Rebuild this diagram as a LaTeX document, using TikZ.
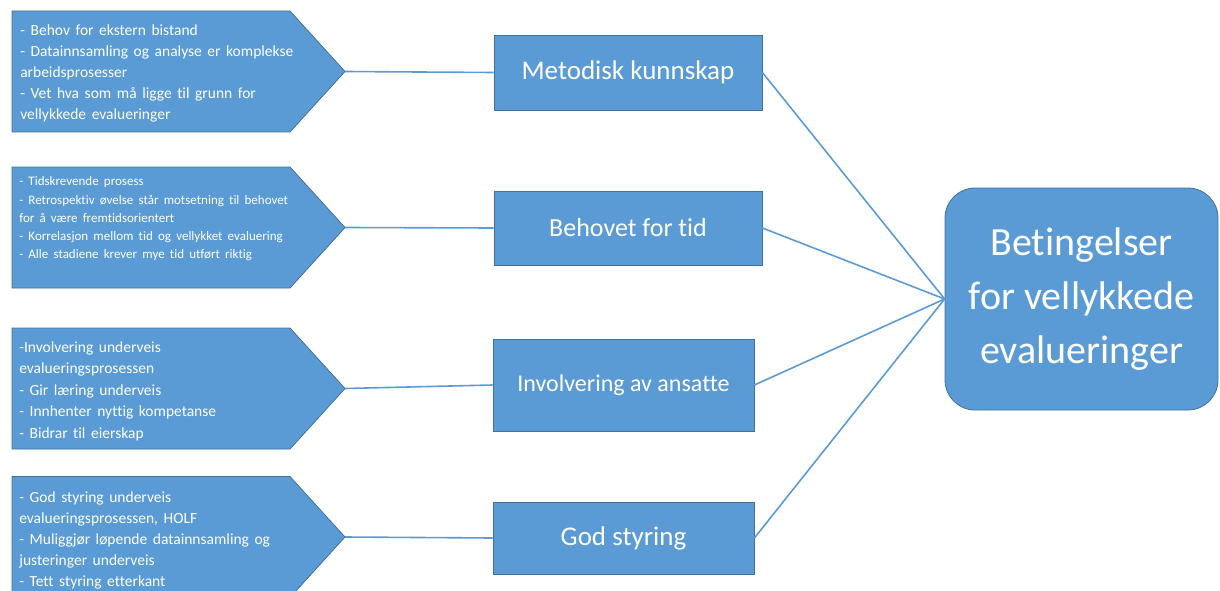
\documentclass[tikz,border=0pt]{standalone}
\usepackage{fontspec}
\setmainfont{Carlito}[Ligatures=NoCommon]
\definecolor{boxblue}{HTML}{5B9BD5}
\definecolor{boxedge}{HTML}{41719C}
\newcommand{\listfont}[3]{\fontsize{#1}{#2}\selectfont\spaceskip=#3em\relax}
\tikzstyle{vertex}=[shape=rectangle,draw=boxedge,fill=boxblue,text=white,line width=0.8pt]
\tikzstyle{listbox}=[draw=boxedge,fill=boxblue,line width=0.8pt]
\tikzstyle{listtext}=[anchor=north west,inner sep=0pt,text=white,align=left]
\tikzstyle{link}=[draw=boxblue,line width=1.6pt]

\begin{document}
\begin{tikzpicture}[x=1pt, y=-1pt, semithick]
	\useasboundingbox (0,0) rectangle (1220,591);
	\clip (0,0) rectangle (1220,591);
	\foreach \pos/\row in {1/71.5, 2/227.5, 3/388.5, 4/537}
	{
		\draw[listbox] (12,\row-60.5) -- (290,\row-60.5) -- (345,\row) -- (290,\row+60.5) -- (12,\row+60.5) -- cycle;
		\coordinate (tip\pos) at (345,\row);
	}
	\node[listtext, font=\listfont{15.5}{21}{0.36}] (list1) at (20,24.5) {- Behov for ekstern bistand\\- Datainnsamling og analyse er komplekse\\arbeidsprosesser\\- Vet hva som må ligge til grunn for\\vellykkede evalueringer};
	\node[listtext, font=\listfont{13}{18.2}{0.4}] (list2) at (19,176.5) {- Tidskrevende prosess\\- Retrospektiv øvelse står motsetning til behovet\\for å være fremtidsorientert\\- Korrelasjon mellom tid og vellykket evaluering\\- Alle stadiene krever mye tid utført riktig};
	\node[listtext, font=\listfont{15.5}{21.5}{0.36}] (list3) at (19,341) {-Involvering underveis\\evalueringsprosessen\\- Gir læring underveis\\- Innhenter nyttig kompetanse\\- Bidrar til eierskap};
	\node[listtext, font=\listfont{15.5}{21.2}{0.36}] (list4) at (19,491) {- God styring underveis\\evalueringsprosessen, HOLF\\- Muliggjør løpende datainnsamling og\\justeringer underveis\\- Tett styring etterkant};

	\node[vertex, minimum width=268pt, minimum height=75pt, font=\fontsize{27}{32}\selectfont] (topic1) at (628,72.5) {Metodisk kunnskap};
	\node[vertex, minimum width=268pt, minimum height=74pt, font=\fontsize{26}{31}\selectfont] (topic2) at (628,228) {Behovet for tid};
	\node[vertex, minimum width=261pt, minimum height=92pt, font=\fontsize{24}{29}\selectfont] (topic3) at (623.5,385) {Involvering av ansatte};
	\node[vertex, minimum width=261pt, minimum height=72pt, font=\fontsize{27}{32}\selectfont] (topic4) at (623.5,538) {God styring};
	\node[vertex, rounded corners=30pt, minimum width=273pt, minimum height=222pt, align=center, font=\fontsize{40}{54}\selectfont] (goal) at (1081.5,299) {Betingelser\\for vellykkede\\evalueringer};

\foreach \pos in {1,...,4}
{
	\path[link] (tip\pos) edge (topic\pos.west);
	\path[link] (topic\pos.east) edge (goal.west);
}
\end{tikzpicture}
\end{document}
